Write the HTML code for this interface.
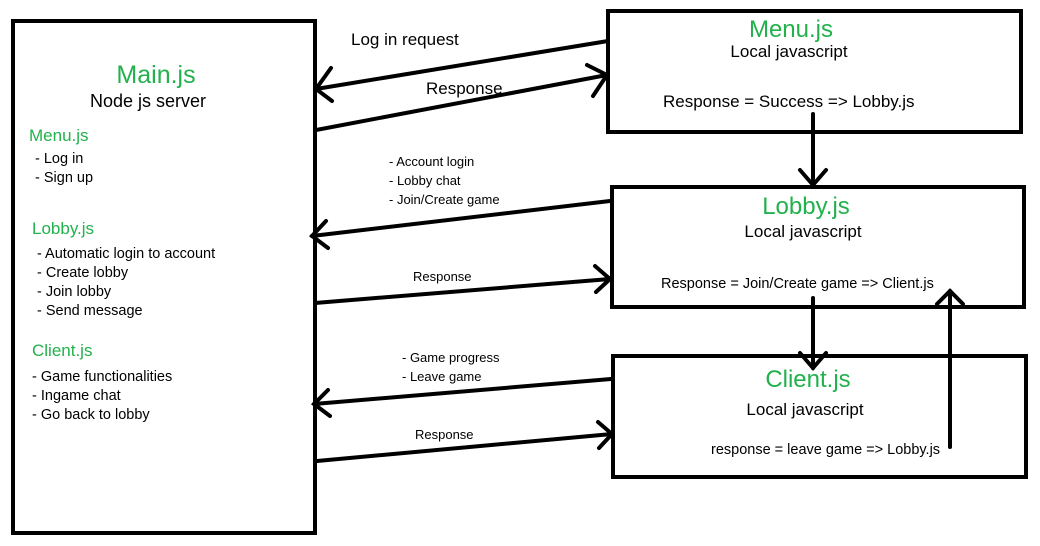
<!DOCTYPE html>
<html><head><meta charset="utf-8"><style>
html,body{margin:0;padding:0;background:#fff;}
svg{display:block;}
text{font-family:"Liberation Sans",sans-serif;fill:#000;}
.g{fill:#22b14c;}
</style></head><body>
<svg width="1040" height="546" viewBox="0 0 1040 546" xmlns="http://www.w3.org/2000/svg">
<g fill="none" stroke="#000" stroke-width="4" stroke-linecap="round">
<rect x="13" y="21" width="302" height="512"/>
<rect x="608" y="11" width="413" height="121"/>
<rect x="612" y="187" width="412" height="120"/>
<rect x="613" y="356" width="413" height="121"/>
<line x1="608" y1="41" x2="316" y2="89"/>
<polyline points="331,68 316,89 332,101"/>
<line x1="316" y1="130" x2="607" y2="75"/>
<polyline points="587,65 607,75 593,96"/>
<line x1="610" y1="201" x2="312" y2="236"/>
<polyline points="326,221 312,236 328,248"/>
<line x1="315" y1="303" x2="610" y2="279"/>
<polyline points="595,266 610,279 596,292"/>
<line x1="611" y1="379" x2="314" y2="404"/>
<polyline points="328,390 314,404 330,416"/>
<line x1="317" y1="461" x2="612" y2="434"/>
<polyline points="598,422 612,434 599,448"/>
<line x1="813" y1="114" x2="813" y2="185"/>
<polyline points="800,170 813,185 826,170"/>
<line x1="813" y1="298" x2="813" y2="368"/>
<polyline points="800,353 813,368 826,353"/>
<line x1="950" y1="447" x2="950" y2="291"/>
<polyline points="937,304 950,291 963,304"/>
</g>
<text x="156" y="83" font-size="25" text-anchor="middle" class="g">Main.js</text>
<text x="148" y="107" font-size="18" text-anchor="middle">Node js server</text>
<text x="29" y="141" font-size="17" class="g">Menu.js</text>
<text x="35" y="163" font-size="14.5">- Log in</text>
<text x="35" y="182" font-size="14.5">- Sign up</text>
<text x="32" y="234" font-size="17" class="g">Lobby.js</text>
<text x="37" y="258" font-size="14.5">- Automatic login to account</text>
<text x="37" y="277" font-size="14.5">- Create lobby</text>
<text x="37" y="296" font-size="14.5">- Join lobby</text>
<text x="37" y="315" font-size="14.5">- Send message</text>
<text x="32" y="356" font-size="17" class="g">Client.js</text>
<text x="32" y="381" font-size="14.5">- Game functionalities</text>
<text x="32" y="400" font-size="14.5">- Ingame chat</text>
<text x="32" y="419" font-size="14.5">- Go back to lobby</text>
<text x="351" y="45" font-size="17">Log in request</text>
<text x="426" y="94" font-size="17">Response</text>
<text x="389" y="166" font-size="13">- Account login</text>
<text x="389" y="185" font-size="13">- Lobby chat</text>
<text x="389" y="204" font-size="13">- Join/Create game</text>
<text x="413" y="281" font-size="13">Response</text>
<text x="402" y="362" font-size="13">- Game progress</text>
<text x="402" y="381" font-size="13">- Leave game</text>
<text x="415" y="439" font-size="13">Response</text>
<text x="791" y="37" font-size="24" text-anchor="middle" class="g">Menu.js</text>
<text x="789" y="57" font-size="17" text-anchor="middle">Local javascript</text>
<text x="663" y="107" font-size="17">Response = Success =&gt; Lobby.js</text>
<text x="806" y="214" font-size="24" text-anchor="middle" class="g">Lobby.js</text>
<text x="803" y="237" font-size="17" text-anchor="middle">Local javascript</text>
<text x="661" y="288" font-size="14.5">Response = Join/Create game =&gt; Client.js</text>
<text x="808" y="387" font-size="24" text-anchor="middle" class="g">Client.js</text>
<text x="805" y="415" font-size="17" text-anchor="middle">Local javascript</text>
<text x="711" y="454" font-size="14.5">response = leave game =&gt; Lobby.js</text>
</svg>
</body></html>
